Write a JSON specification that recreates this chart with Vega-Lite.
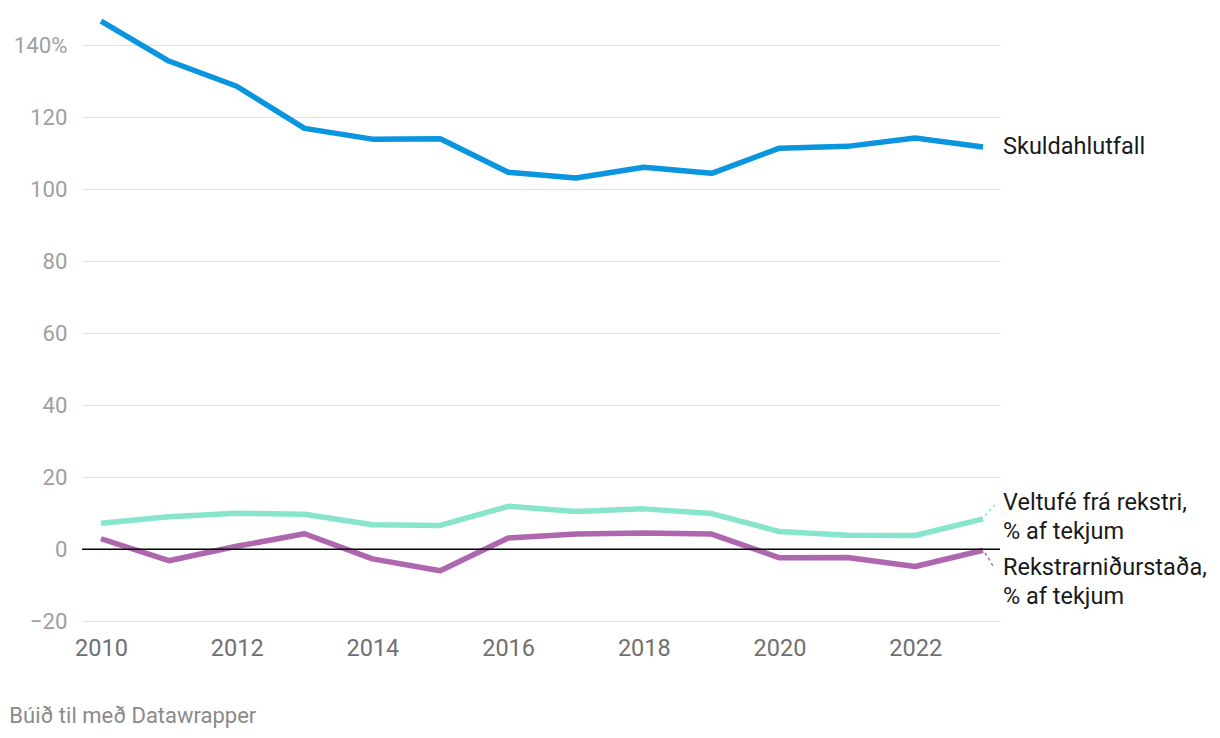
{
  "$schema": "https://vega.github.io/schema/vega-lite/v6.json",
  "width": 918,
  "height": 601.2,
  "autosize": {"type": "none"},
  "padding": {"left": 82, "top": 20, "right": 220, "bottom": 117},
  "background": "white",
  "config": {
    "font": "Roboto",
    "view": {"stroke": null}
  },
  "title": {
    "text": "Búið til með Datawrapper",
    "orient": "bottom",
    "anchor": "start",
    "dx": -4,
    "offset": 46,
    "fontSize": 22,
    "fontWeight": "normal",
    "color": "#8a8a8a",
    "font": "Roboto"
  },
  "datasets": {
    "series": [
      {"year": 2010, "series": "Skuldahlutfall", "value": 146.7},
      {"year": 2011, "series": "Skuldahlutfall", "value": 135.6},
      {"year": 2012, "series": "Skuldahlutfall", "value": 128.6},
      {"year": 2013, "series": "Skuldahlutfall", "value": 116.9},
      {"year": 2014, "series": "Skuldahlutfall", "value": 113.9},
      {"year": 2015, "series": "Skuldahlutfall", "value": 114.0},
      {"year": 2016, "series": "Skuldahlutfall", "value": 104.7},
      {"year": 2017, "series": "Skuldahlutfall", "value": 103.1},
      {"year": 2018, "series": "Skuldahlutfall", "value": 106.1},
      {"year": 2019, "series": "Skuldahlutfall", "value": 104.4},
      {"year": 2020, "series": "Skuldahlutfall", "value": 111.4},
      {"year": 2021, "series": "Skuldahlutfall", "value": 111.9},
      {"year": 2022, "series": "Skuldahlutfall", "value": 114.2},
      {"year": 2023, "series": "Skuldahlutfall", "value": 111.7},
      {"year": 2010, "series": "Veltufé", "value": 7.2},
      {"year": 2011, "series": "Veltufé", "value": 9.0},
      {"year": 2012, "series": "Veltufé", "value": 10.0},
      {"year": 2013, "series": "Veltufé", "value": 9.7},
      {"year": 2014, "series": "Veltufé", "value": 6.8},
      {"year": 2015, "series": "Veltufé", "value": 6.6},
      {"year": 2016, "series": "Veltufé", "value": 11.9},
      {"year": 2017, "series": "Veltufé", "value": 10.5},
      {"year": 2018, "series": "Veltufé", "value": 11.2},
      {"year": 2019, "series": "Veltufé", "value": 9.9},
      {"year": 2020, "series": "Veltufé", "value": 4.9},
      {"year": 2021, "series": "Veltufé", "value": 3.9},
      {"year": 2022, "series": "Veltufé", "value": 3.8},
      {"year": 2023, "series": "Veltufé", "value": 8.4},
      {"year": 2010, "series": "Rekstrarniðurstaða", "value": 2.9},
      {"year": 2011, "series": "Rekstrarniðurstaða", "value": -3.2},
      {"year": 2012, "series": "Rekstrarniðurstaða", "value": 0.8},
      {"year": 2013, "series": "Rekstrarniðurstaða", "value": 4.3},
      {"year": 2014, "series": "Rekstrarniðurstaða", "value": -2.7},
      {"year": 2015, "series": "Rekstrarniðurstaða", "value": -6.0},
      {"year": 2016, "series": "Rekstrarniðurstaða", "value": 3.1},
      {"year": 2017, "series": "Rekstrarniðurstaða", "value": 4.2},
      {"year": 2018, "series": "Rekstrarniðurstaða", "value": 4.5},
      {"year": 2019, "series": "Rekstrarniðurstaða", "value": 4.2},
      {"year": 2020, "series": "Rekstrarniðurstaða", "value": -2.4},
      {"year": 2021, "series": "Rekstrarniðurstaða", "value": -2.3},
      {"year": 2022, "series": "Rekstrarniðurstaða", "value": -4.8},
      {"year": 2023, "series": "Rekstrarniðurstaða", "value": -0.3}
    ],
    "labels": [
      {"series": "Skuldahlutfall", "year": 2023, "value": 111.6, "label": "Skuldahlutfall"},
      {"series": "Veltufé", "year": 2023, "value": 12.8, "label": "Veltufé frá rekstri,\n% af tekjum"},
      {"series": "Rekstrarniðurstaða", "year": 2023, "value": -5.2, "label": "Rekstrarniðurstaða,\n% af tekjum"}
    ],
    "connectors": [
      {"series": "Veltufé", "x1": 2023.03, "y1": 9.3, "x2": 2023.2, "y2": 12.8},
      {"series": "Rekstrarniðurstaða", "x1": 2023.03, "y1": -1.0, "x2": 2023.15, "y2": -4.7}
    ],
    "zero": [{"v": 0}]
  },
  "layer": [
    {
      "data": {"name": "series"},
      "mark": {"type": "line", "strokeWidth": 5.5, "strokeCap": "butt", "strokeJoin": "round"},
      "encoding": {
        "x": {
          "field": "year", "type": "quantitative",
          "scale": {"domain": [2009.72, 2023.25], "nice": false, "zero": false},
          "axis": {
            "values": [2010, 2012, 2014, 2016, 2018, 2020, 2022],
            "format": "d", "title": null, "domain": false, "ticks": false, "grid": false,
            "labelFontSize": 23.5, "labelColor": "#707070", "labelPadding": 15, "labelFont": "Roboto"
          }
        },
        "y": {
          "field": "value", "type": "quantitative",
          "scale": {"domain": [-20, 147], "nice": false, "zero": false},
          "axis": {
            "values": [-20, 0, 20, 40, 60, 80, 100, 120, 140],
            "labelExpr": "datum.value == 140 ? '140%' : datum.label",
            "title": null, "domain": false, "ticks": false,
            "gridColor": "#e0e0e0", "gridWidth": 1,
            "labelFontSize": 22.2, "labelColor": "#a0a0a0", "labelPadding": 15, "labelFont": "Roboto"
          }
        },
        "color": {
          "field": "series", "type": "nominal",
          "scale": {"domain": ["Skuldahlutfall", "Veltufé", "Rekstrarniðurstaða"], "range": ["#0996df", "#86e5cb", "#ae66ae"]},
          "legend": null
        },
        "detail": {"field": "series"}
      }
    },
    {
      "data": {"name": "zero"},
      "mark": {"type": "rule", "color": "#000000", "strokeWidth": 1.5},
      "encoding": {"y": {"field": "v", "type": "quantitative"}}
    },
    {
      "data": {"name": "connectors"},
      "mark": {"type": "rule", "strokeWidth": 1.5, "strokeDash": [3, 3]},
      "encoding": {
        "x": {"field": "x1", "type": "quantitative"},
        "x2": {"field": "x2"},
        "y": {"field": "y1", "type": "quantitative"},
        "y2": {"field": "y2"},
        "color": {"field": "series", "type": "nominal", "legend": null}
      }
    },
    {
      "data": {"name": "labels"},
      "mark": {"type": "text", "align": "left", "baseline": "middle", "dx": 20, "fontSize": 23.5, "lineHeight": 29, "lineBreak": "\n", "font": "Roboto", "color": "#1a1a1a"},
      "encoding": {
        "x": {"field": "year", "type": "quantitative"},
        "y": {"field": "value", "type": "quantitative"},
        "text": {"field": "label"}
      }
    }
  ]
}
